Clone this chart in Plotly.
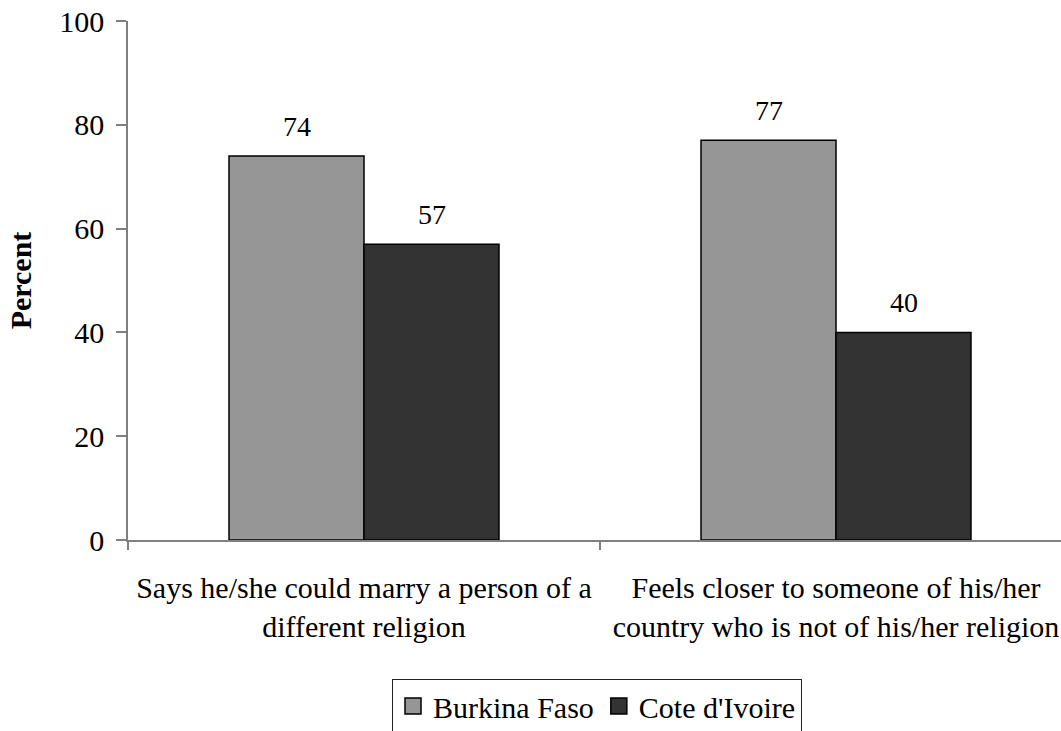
import plotly.graph_objects as go

categories = [
    "Says he/she could marry a person of a<br>different religion",
    "Feels closer to someone of his/her<br>country who is not of his/her religion",
]
series_names = ["Burkina Faso", "Cote d'Ivoire"]
burkina_faso = [74, 77]
cote_divoire = [57, 40]
y_ticks = [0, 20, 40, 60, 80, 100]

FONT = "Liberation Serif"
SIZE = 30
colors = ["#969696", "#333333"]
values = [burkina_faso, cote_divoire]

bar_w = 0.286  # width of a single bar, in category units
fig = go.Figure()
for name, vals, col in zip(series_names, values, colors):
    fig.add_trace(go.Bar(
        name=name, x=categories, y=vals, showlegend=False,
        marker=dict(color=col, line=dict(color="black", width=1.5)),
    ))
    # legend key: a larger square swatch than the default bar icon
    fig.add_trace(go.Scatter(
        name=name, x=[None], y=[None], mode="markers",
        marker=dict(symbol="square", size=16, color=col,
                    line=dict(color="black", width=1.5)),
    ))

# value labels above each bar
for s, vals in enumerate(values):
    offset = (s - 0.5) * bar_w
    for i, v in enumerate(vals):
        fig.add_annotation(
            x=i + offset, y=v, xref="x", yref="y", text=str(v),
            showarrow=False, yanchor="bottom", yshift=12,
            font=dict(family=FONT, size=SIZE - 2, color="black"),
        )

fig.update_layout(
    width=1061, height=731,
    margin=dict(l=128, r=0, t=21, b=191),
    paper_bgcolor="white", plot_bgcolor="white",
    barmode="group", bargap=1 - 2 * bar_w, bargroupgap=0,
    font=dict(family=FONT, size=SIZE, color="black"),
    showlegend=True,
    legend=dict(
        orientation="h", xref="container", yref="container",
        x=597 / 1061, xanchor="center", y=1 - 679 / 731, yanchor="top",
        bordercolor="#222222", borderwidth=1, bgcolor="white",
        font=dict(family=FONT, size=SIZE, color="black"),
        itemwidth=30,
    ),
)
fig.update_xaxes(
    type="category", range=[-0.5, -0.5 + 933 / 472],
    showline=True, linecolor="#808080", linewidth=1.5,
    ticks="outside", tickson="boundaries", ticklen=8,
    tickcolor="#808080", tickwidth=1.5,
    showgrid=False, zeroline=False,
    ticklabelstandoff=20,
    tickfont=dict(family=FONT, size=SIZE, color="black"),
)
fig.update_yaxes(
    range=[0, 100], tickvals=y_ticks,
    showline=True, linecolor="#808080", linewidth=1.5,
    ticks="outside", ticklen=10, tickcolor="#808080", tickwidth=1.5,
    showgrid=False, zeroline=False,
    ticklabelstandoff=6,
    tickfont=dict(family=FONT, size=SIZE, color="black"),
    title=dict(text="<b>Percent</b>", standoff=19,
               font=dict(family=FONT, size=SIZE, color="black")),
)

fig.write_html("out.html")
